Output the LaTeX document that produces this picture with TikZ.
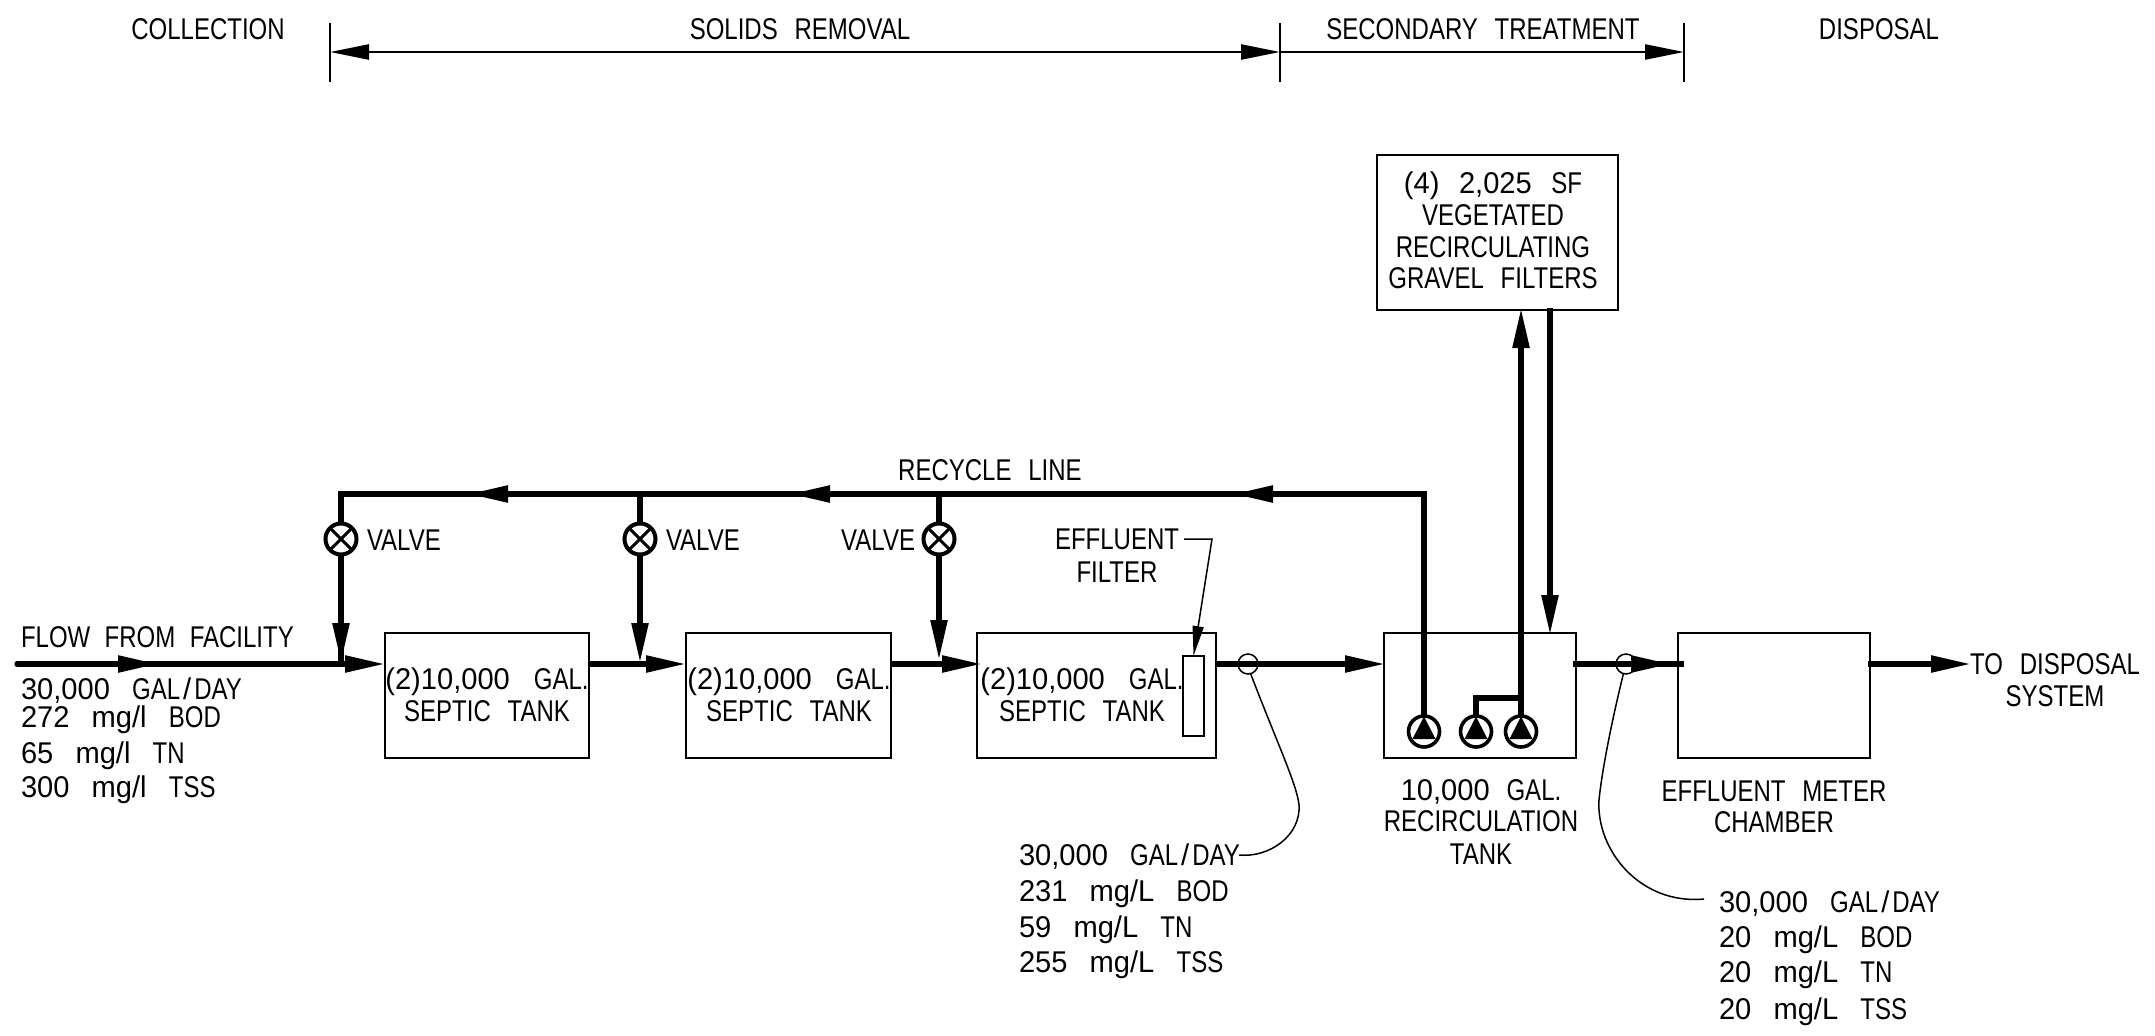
\documentclass[tikz,border=0pt]{standalone}
\usepackage{fontspec}
\setmainfont[FakeStretch=0.80]{Liberation Sans}
\newfontfamily\dgfont[FakeStretch=0.97]{Liberation Sans}
\newcommand{\D}[1]{{\dgfont #1}}
\newcommand{\G}{\hspace{.56em}}
\newcommand{\W}{\hspace{.74em}}
\newcommand{\Sl}{\hspace{.1em}\D{/}\hspace{.1em}}
\usetikzlibrary{arrows.meta}
\tikzset{
  x=1pt,y=-1pt,
  every node/.style={inner sep=0pt,outer sep=0pt},
  lbl/.style={font=\fontsize{30}{30}\selectfont,align=center,text depth=0pt},
  lbll/.style={lbl,anchor=west},
  lblr/.style={lbl,anchor=east},
  boxn/.style={draw,line width=2.8pt,anchor=north west,minimum width=0pt},
  flow/.style={line width=5.4pt},
  tipd/.style={-{Triangle[length=40pt,width=16pt,sep=0pt]}},
  tipv/.style={-{Triangle[length=40pt,width=16pt,sep=0pt]}},
  thin1/.style={line width=1.5pt},
  dimline/.style={line width=2.4pt},
  valvec/.style={circle,draw,fill=white,line width=4pt,minimum size=31pt},
  pumpc/.style={circle,draw,fill=white,line width=3.6pt,minimum size=31pt},
  samplec/.style={circle,draw,line width=1.5pt,minimum size=20pt},
}
\newcommand{\blockbox}[5]{\node[boxn,minimum width=#4pt,minimum height=#5pt] (#1) at (#2,#3) {};}
\begin{document}
\begin{tikzpicture}
\useasboundingbox (0,0) rectangle (2155,1036);
% headers
\node[lbl] (hcol) at (208,29) {COLLECTION};
\node[lbl] (hsol) at (800,29) {SOLIDS\G REMOVAL};
\node[lbl] (hsec) at (1483,29) {SECONDARY\G TREATMENT};
\node[lbl] (hdis) at (1879,29) {DISPOSAL};
\coordinate (t1a) at (330,23); \coordinate (t1b) at (330,82);
\coordinate (t2a) at (1280,23); \coordinate (t2b) at (1280,82);
\coordinate (t3a) at (1684,23); \coordinate (t3b) at (1684,82);
\draw[thin1] (t1a)--(t1b); \draw[thin1] (t2a)--(t2b); \draw[thin1] (t3a)--(t3b);
\coordinate (d1) at (330,52); \coordinate (d2) at (1280,52); \coordinate (d3) at (1684,52);
\draw[dimline,{Triangle[length=39pt,width=15pt]}-{Triangle[length=39pt,width=15pt]}] (d1)--(d2);
\draw[dimline,-{Triangle[length=39pt,width=15pt]}] (d2)--(d3);
% boxes
\blockbox{tank1}{385}{633}{204}{125}
\blockbox{tank2}{686}{633}{205}{125}
\blockbox{tank3}{977}{633}{239}{125}
\blockbox{recirc}{1384}{633}{192}{125}
\blockbox{meter}{1678}{633}{192}{125}
\blockbox{filters}{1377}{155}{241}{155}
\blockbox{efilter}{1183}{656}{21}{80}
% box texts
\node[lbl] (t1) at (487,695) {\D{(2)10,000}\hspace{.8em}GAL.\\[2pt]SEPTIC\G TANK};
\node[lbl] (t2) at (789,695) {\D{(2)10,000}\hspace{.8em}GAL.\\[2pt]SEPTIC\G TANK};
\node[lbl] (t3) at (1082,695) {\D{(2)10,000}\hspace{.8em}GAL.\\[2pt]SEPTIC\G TANK};
\node[lbl] (tf1) at (1493,183) {\D{(4)}\hspace{.65em}\D{2,025}\hspace{.65em}SF};
\node[lbl] (tf2) at (1493,215) {VEGETATED};
\node[lbl] (tf3) at (1493,247) {RECIRCULATING};
\node[lbl] (tf4) at (1493,278) {GRAVEL\G FILTERS};
% main flow
\coordinate (in0) at (17,664); \coordinate (in1) at (158,664); \coordinate (in2) at (350,664);
\draw[flow,line cap=round] (in0)--(in2);
\draw[flow,tipd] (in0)--(in1);
\coordinate (t1in) at (385,664);
\draw[flow,tipd] (in2)--(t1in);
\coordinate (a1s) at (588,664); \coordinate (a1e) at (686,664);
\draw[flow,tipd] (a1s)--(a1e);
\coordinate (a2s) at (891,664); \coordinate (a2e) at (982,664);
\draw[flow,tipd] (a2s)--(a2e);
\coordinate (a3s) at (1216,664); \coordinate (a3e) at (1385,664);
\draw[flow,tipd] (a3s)--(a3e);
\coordinate (a4s) at (1573,664); \coordinate (a4m) at (1671,664); \coordinate (a4e) at (1684,664);
\draw[flow] (a4s)--(a4e);
\draw[flow,tipd] (a4s)--(a4m);
\coordinate (a5s) at (1868,664); \coordinate (a5e) at (1971,664);
\draw[flow,tipd] (a5s)--(a5e);
% recycle
\coordinate (r0) at (1424,494); \coordinate (r1) at (1233,494); \coordinate (r2) at (790,494); \coordinate (r3) at (468,494); \coordinate (r4) at (341,494);
\coordinate (vp1) at (341,494); \coordinate (vp2) at (640,494); \coordinate (vp3) at (939,494);
\coordinate (vi1) at (341,663); \coordinate (vi2) at (640,663); \coordinate (vi3) at (939,660);
\node[pumpc] (p1) at (1424,731.5) {};
\node[pumpc] (p2) at (1476,731.5) {};
\node[pumpc] (p3) at (1521,731.5) {};
\draw[flow,line join=miter] (p1.north)--(r0)--(r4)--(vi1);
\draw[flow,tipd] (r0)--(r1);
\draw[flow,tipd] (r1)--(r2);
\draw[flow,tipd] (r2)--(r3);
\draw[flow,tipv] (vp1)--(vi1);
\draw[flow,tipv] (vp2)--(vi2);
\draw[flow,tipv] (vp3)--(vi3);
\foreach \n/\xx in {v1/341,v2/640,v3/939}{
  \node[valvec] (\n) at (\xx,539) {};
  \draw[line width=3pt] (\n.45)--(\n.225);
  \draw[line width=3pt] (\n.135)--(\n.315);
}
\node[lbll] (lv1) at (367,540) {VALVE};
\node[lbll] (lv2) at (666,540) {VALVE};
\node[lblr] (lv3) at (915,540) {VALVE};
\node[lbl] (lrec) at (990,470) {RECYCLE\G LINE};
% pumps
\foreach \n in {p1,p2,p3}{
  \fill ([yshift=15pt]\n.center) -- ([xshift=-11.5pt,yshift=-7.5pt]\n.center) -- ([xshift=11.5pt,yshift=-7.5pt]\n.center) -- cycle;
}
\coordinate (lk) at (1476,698); \coordinate (lk2) at (1521,698);
\draw[flow,line join=miter] (p2.north)--(lk)--(lk2);
\coordinate (up) at (1521,308); \coordinate (dn0) at (1550,308); \coordinate (dn1) at (1550,635);
\draw[flow,tipv] (p3.north)--(up);
\draw[flow,tipv] (dn0)--(dn1);
% labels
\node[lbll] (lflow) at (21,637) {FLOW\hspace{.48em}FROM\hspace{.48em}FACILITY};
\node[lbll] (l11) at (21,689) {\D{30,000}\W GAL\Sl DAY};
\node[lbll] (l12) at (21,717) {\D{272}\W\D{mg/l}\W BOD};
\node[lbll] (l13) at (21,753) {\D{65}\W\D{mg/l}\W TN};
\node[lbll] (l14) at (21,787) {\D{300}\W\D{mg/l}\W TSS};
\node[lbl] (lef1) at (1117,539) {EFFLUENT};
\node[lbl] (lef2) at (1117,572) {FILTER};
\coordinate (ef1) at (1184,539); \coordinate (ef2) at (1212,539);
\draw[thin1,-{Triangle[length=30pt,width=11pt]}] (ef1)--(ef2)--(efilter.north);
\node[samplec] (s1) at (1248,664) {};
\node[samplec] (s2) at (1626,664) {};
\node[lbll] (l21) at (1019,855) {\D{30,000}\W GAL\Sl DAY};
\node[lbll] (l22) at (1019,891) {\D{231}\W\D{mg/L}\W BOD};
\node[lbll] (l23) at (1019,927) {\D{59}\W\D{mg/L}\W TN};
\node[lbll] (l24) at (1019,962) {\D{255}\W\D{mg/L}\W TSS};
\coordinate (c1e) at (1239,855);
\draw[thin1] (s1.-75) .. controls (1278,745) and (1297,785) .. (1299,805) .. controls (1301,835) and (1270,858) .. (c1e);
\node[lbl] (lrt1) at (1481,790) {\D{10,000}\G GAL.};
\node[lbl] (lrt2) at (1481,821) {RECIRCULATION};
\node[lbl] (lrt3) at (1481,854) {TANK};
\node[lbl] (lem1) at (1774,791) {EFFLUENT\G METER};
\node[lbl] (lem2) at (1774,822) {CHAMBER};
\node[lbll] (l31) at (1719,902) {\D{30,000}\W GAL\Sl DAY};
\node[lbll] (l32) at (1719,937) {\D{20}\W\D{mg/L}\W BOD};
\node[lbll] (l33) at (1719,972) {\D{20}\W\D{mg/L}\W TN};
\node[lbll] (l34) at (1719,1009) {\D{20}\W\D{mg/L}\W TSS};
\coordinate (c2e) at (1704,899);
\draw[thin1] (s2.-105) .. controls (1612,720) and (1602,770) .. (1599,800) .. controls (1596,850) and (1640,905) .. (c2e);
\node[lbl] (ltd1) at (2055,664) {TO\G DISPOSAL};
\node[lbl] (ltd2) at (2055,696) {SYSTEM};
\end{tikzpicture}
\end{document}
